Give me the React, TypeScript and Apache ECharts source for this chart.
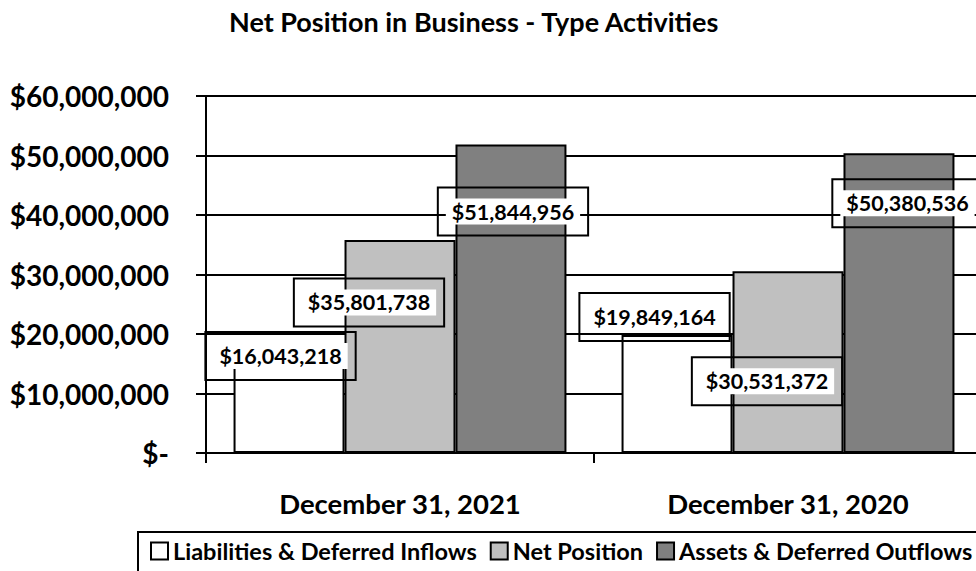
import React, { useEffect, useRef } from "react";
import * as echarts from "echarts";

const categories = ["December 31, 2021", "December 31, 2020"];
const seriesNames = [
  "Liabilities & Deferred Inflows",
  "Net Position",
  "Assets & Deferred Outflows",
];
const liabilities = [16043218, 19849164];
const netPosition = [35801738, 30531372];
const assets = [51844956, 50380536];
const yTicks = [0, 10000000, 20000000, 30000000, 40000000, 50000000, 60000000];

const colors = ["#FFFFFF", "#C0C0C0", "#808080"];
const labelOffsets = [
  [[-8.5, -1.5], [-22.5, -18]],
  [[-31, 62.5], [-21, 110]],
  [[2, 67], [8.5, 50]],
];

const FONT = "Lato, 'Open Sans', 'DejaVu Sans', sans-serif";

const fmtMoney = (v: number) =>
  v === 0 ? "$-" : "$" + Math.round(v).toLocaleString("en-US");

export default function App() {
  const ref = useRef<HTMLDivElement>(null);
  useEffect(() => {
    if (!ref.current) return;
    const chart = echarts.init(ref.current, null, { renderer: "svg" });
    const all = [liabilities, netPosition, assets];
    chart.setOption({
      animation: false,
      backgroundColor: "#FFFFFF",
      title: {
        text: "Net Position in Business - Type Activities",
        left: 224,
        top: 3,
        textStyle: {
          fontFamily: FONT,
          fontWeight: "bold",
          fontSize: 27,
          color: "#000",
        },
      },
      legend: {
        left: 138,
        top: 532,
        width: 900,
        padding: [7, 12, 16, 12],
        borderColor: "#000",
        borderWidth: 2,
        itemWidth: 17,
        itemHeight: 17,
        itemGap: 13,
        icon: "rect",
        itemStyle: { borderColor: "#000", borderWidth: 2 },
        textStyle: {
          fontFamily: FONT,
          fontWeight: "bold",
          fontSize: 23.5,
          color: "#000",
        },
        data: seriesNames,
      },
      grid: { left: 206, right: 0, top: 96, bottom: 118, containLabel: false },
      xAxis: {
        type: "category",
        data: categories,
        axisLine: { show: true, lineStyle: { color: "#000", width: 2 } },
        axisTick: {
          show: true,
          length: 10,
          alignWithLabel: false,
          lineStyle: { color: "#000", width: 2 },
        },
        axisLabel: {
          margin: 36,
          fontFamily: FONT,
          fontWeight: "bold",
          fontSize: 27.5,
          color: "#000",
        },
        splitLine: { show: false },
      },
      yAxis: {
        type: "value",
        min: yTicks[0],
        max: yTicks[yTicks.length - 1],
        interval: yTicks[1] - yTicks[0],
        axisLine: { show: true, lineStyle: { color: "#000", width: 2 } },
        axisTick: { show: true, length: 10, lineStyle: { color: "#000", width: 2 } },
        axisLabel: {
          margin: 37,
          fontFamily: FONT,
          fontWeight: "bold",
          fontSize: 28,
          color: "#000",
          formatter: (v: number) => fmtMoney(v),
        },
        splitLine: { show: true, lineStyle: { color: "#000", width: 2 } },
      },
      series: all.map((vals, s) => ({
        name: seriesNames[s],
        type: "bar",
        barGap: "0%",
        barCategoryGap: "14.2%",
        itemStyle: { color: colors[s], borderColor: "#000", borderWidth: 2 },
        label: {
          show: true,
          position: "top",
          distance: 0,
          align: "center",
          verticalAlign: "middle",
          borderColor: "#000",
          borderWidth: 2,
          padding: [11, 8],
          formatter: (p: any) => "{t|" + fmtMoney(p.value) + "}",
          rich: {
            t: {
              fontFamily: FONT,
              fontWeight: "bold",
              fontSize: 21.5,
              color: "#000",
              backgroundColor: "#FFFFFF",
              padding: [2, 6],
              lineHeight: 26,
            },
          },
        },
        z: 2,
        data: vals.map((v, i) => ({
          value: v,
          label: { offset: labelOffsets[s][i] },
        })),
      })),
    });
    return () => chart.dispose();
  }, []);
  return (
    <div
      style={{
        position: "absolute",
        left: 0,
        top: 0,
        width: 976,
        height: 571,
        overflow: "hidden",
      }}
    >
      <div ref={ref} style={{ width: 982, height: 571 }} />
    </div>
  );
}
